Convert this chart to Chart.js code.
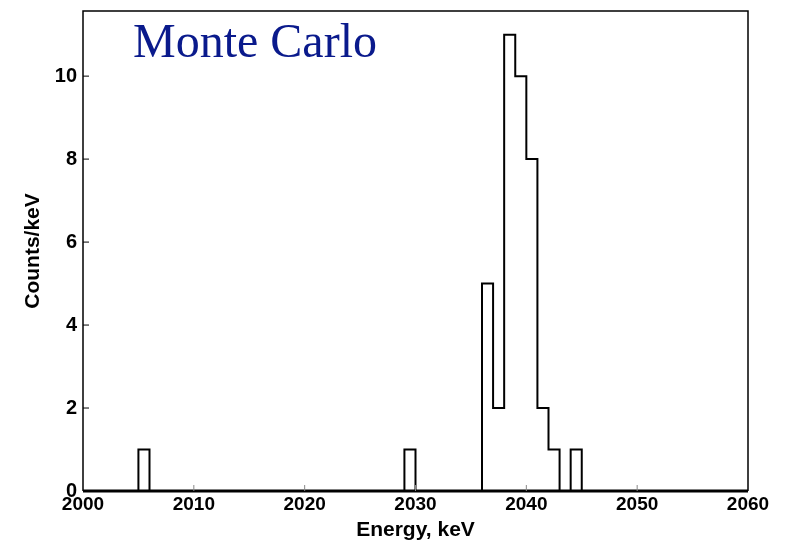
<!DOCTYPE html>
<html>
<head>
<meta charset="utf-8">
<script src="https://cdn.jsdelivr.net/npm/chart.js@4.4.0/dist/chart.umd.min.js"></script>
<style>
  html, body { margin: 0; padding: 0; background: #fff; }
  #wrap { width: 787px; height: 541px; }
</style>
</head>
<body>
<div id="wrap"><canvas id="histo" width="787" height="541"></canvas></div>
<script>
// Dados do histograma (caixas de 1 keV)
const binStart = [2005, 2029, 2036, 2037, 2038, 2039, 2040, 2041, 2042, 2043, 2044];
const counts   = [1, 1, 5, 2, 11, 10, 8, 2, 1, 0, 1];
const xTicks = [2000, 2010, 2020, 2030, 2040, 2050, 2060];
const yTicks = [0, 2, 4, 6, 8, 10];
const xMin = 2000, xMax = 2060, yMax = 11.57;

// Monta o contorno em degraus: um ponto por borda de caixa
function montarDegraus() {
    const pts = [];
    for (let e = xMin; e < xMax; e++) {
        const i = binStart.indexOf(e);
        pts.push({ x: e, y: i >= 0 ? counts[i] : 0 });
    }
    pts.push({ x: xMax, y: 0 });
    return pts;
}

// Moldura, ticks internos e o texto "Monte Carlo"
const moldura = {
    id: 'moldura',
    afterDraw(chart) {
        const { ctx, chartArea: a, scales } = chart;
        ctx.save();
        ctx.strokeStyle = '#000';
        ctx.lineWidth = 1.5;
        ctx.beginPath();
        ctx.moveTo(a.left, a.bottom);
        ctx.lineTo(a.left, a.top);
        ctx.lineTo(a.right, a.top);
        ctx.lineTo(a.right, a.bottom);
        ctx.stroke();
        ctx.lineWidth = 3;
        ctx.beginPath();
        ctx.moveTo(a.left, a.bottom);
        ctx.lineTo(a.right, a.bottom);
        ctx.stroke();
        ctx.strokeStyle = '#888';
        ctx.lineWidth = 1;
        xTicks.slice(1, -1).forEach(v => {
            const px = scales.x.getPixelForValue(v);
            ctx.beginPath();
            ctx.moveTo(px, a.bottom);
            ctx.lineTo(px, a.bottom - 6);
            ctx.stroke();
        });
        ctx.strokeStyle = '#000';
        yTicks.slice(1).forEach(v => {
            const py = scales.y.getPixelForValue(v);
            ctx.beginPath();
            ctx.moveTo(a.left, py);
            ctx.lineTo(a.left + 6, py);
            ctx.stroke();
        });
        ctx.fillStyle = '#0a1a8c';
        ctx.font = '48px "Liberation Serif", "Times New Roman", serif';
        ctx.textAlign = 'left';
        ctx.textBaseline = 'alphabetic';
        ctx.fillText('Monte Carlo', 133, 57);
        ctx.restore();
    }
};

const ctx = document.getElementById('histo').getContext('2d');
const grafico = new Chart(ctx, {
    type: 'line',
    data: {
        datasets: [{
            data: montarDegraus(),
            stepped: 'before',
            borderColor: '#000',
            borderWidth: 2,
            pointRadius: 0,
            fill: false
        }]
    },
    options: {
        responsive: false,
        animation: false,
        layout: { padding: { top: 11, right: 39, left: 0, bottom: 0 } },
        plugins: { legend: { display: false }, tooltip: { enabled: false } },
        scales: {
            x: {
                type: 'linear',
                min: xMin,
                max: xMax,
                afterBuildTicks: s => { s.ticks = xTicks.map(v => ({ value: v })); },
                afterFit: s => { s.height = 50; s.paddingLeft = 0; s.paddingRight = 0; },
                grid: { display: false, drawTicks: false },
                border: { display: false },
                ticks: {
                    padding: 2,
                    color: '#000',
                    font: { family: '"Liberation Sans", Arial, sans-serif', size: 19, weight: 'bold' },
                    callback: v => String(v)
                },
                title: {
                    display: true,
                    text: 'Energy, keV',
                    color: '#000',
                    padding: { top: 0, bottom: 0 },
                    font: { family: '"Liberation Sans", Arial, sans-serif', size: 21, weight: 'bold', lineHeight: 1.0 }
                }
            },
            y: {
                min: 0,
                max: yMax,
                afterBuildTicks: s => { s.ticks = yTicks.map(v => ({ value: v })); },
                afterFit: s => { s.width = 83; s.paddingTop = 0; s.paddingBottom = 0; },
                grid: { display: false, drawTicks: false },
                border: { display: false },
                ticks: {
                    padding: 6,
                    color: '#000',
                    font: { family: '"Liberation Sans", Arial, sans-serif', size: 20, weight: 'bold' }
                },
                title: {
                    display: true,
                    text: 'Counts/keV',
                    color: '#000',
                    padding: { top: 21, bottom: 0 },
                    font: { family: '"Liberation Sans", Arial, sans-serif', size: 21, weight: 'bold' }
                }
            }
        }
    },
    plugins: [moldura]
});
</script>
</body>
</html>
